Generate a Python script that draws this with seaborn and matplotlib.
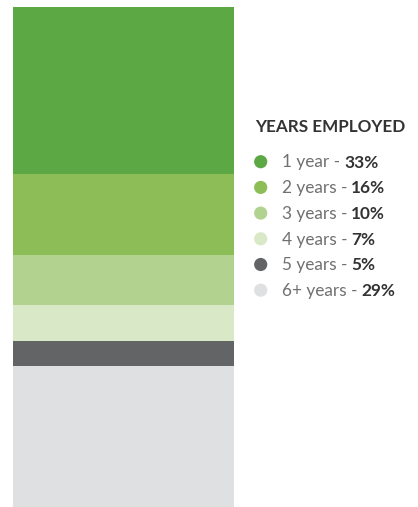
import matplotlib
matplotlib.use("Agg")
import matplotlib.pyplot as plt
import seaborn as sns
import pandas as pd

categories = ["1 year", "2 years", "3 years", "4 years", "5 years", "6+ years"]
values = [33, 16, 10, 7, 5, 29]
colors = ["#5ca845", "#8cbd56", "#b2d38f", "#d9e9c7", "#626466", "#dee0e2"]
legend_title = "YEARS EMPLOYED"

sns.set_theme(style="white")
plt.rcParams["font.family"] = ["Lato", "DejaVu Sans"]

W, H = 418, 507
fig = plt.figure(figsize=(W / 100, H / 100), dpi=100)
fig.patch.set_facecolor("white")

# stacked bar axes (bar runs slightly past the bottom edge)
top_px, bar_px = 7.3, 505
ax = fig.add_axes([13 / W, (H - top_px - bar_px) / H, 221 / W, bar_px / H])
df = pd.DataFrame({"cat": categories, "val": values})
df["start"] = df["val"].cumsum() - df["val"]
for i, row in df.iterrows():
    sns.barplot(x=[0], y=[row["val"]], bottom=[row["start"]], color=colors[i],
                width=1.0, ax=ax, saturation=1, linewidth=0, edgecolor="none")
ax.set_xlim(-0.5, 0.5)
ax.set_ylim(100, 0)
ax.axis("off")

# legend overlay in pixel coordinates
lax = fig.add_axes([0, 0, 1, 1])
lax.patch.set_alpha(0)

title_x, title_y = 255, 131.5
lax.text(title_x, title_y, legend_title, fontsize=12.3, fontweight="bold",
         color="#333333", va="baseline", ha="left")

row0, step = 161.7, 25.7
ys = [row0 + step * i for i in range(len(categories))]
sns.scatterplot(x=[260.7] * len(categories), y=ys, hue=categories,
                palette=colors, s=90, linewidth=0, legend=False, ax=lax)
lax.set_xlim(0, W)
lax.set_ylim(H, 0)
lax.axis("off")

fig.canvas.draw()
renderer = fig.canvas.get_renderer()
for cat, val, y in zip(categories, values, ys):
    t1 = lax.text(281.5, y + 5.8, f"{cat} - ", fontsize=12.4, fontweight="normal",
                  color="#707070", va="baseline", ha="left")
    bb = t1.get_window_extent(renderer=renderer)
    xd, _ = lax.transData.inverted().transform((bb.x1, 0))
    lax.text(xd, y + 5.8, f"{val}%", fontsize=12.4, fontweight="bold",
             color="#333333", va="baseline", ha="left")

fig.savefig("out.png", dpi=100, facecolor="white")
